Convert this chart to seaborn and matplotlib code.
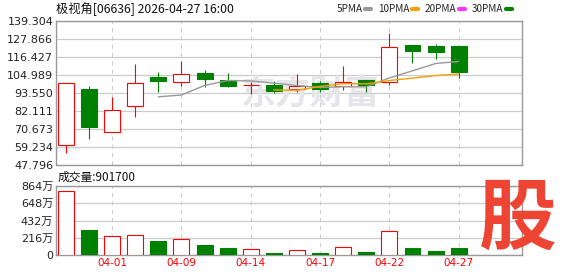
import numpy as np
import pandas as pd
import matplotlib
matplotlib.use("Agg")
import matplotlib.pyplot as plt
import seaborn as sns
from matplotlib.lines import Line2D

# ---------------- data ----------------
dates = ['03-30', '03-31', '04-01', '04-02', '04-08', '04-09', '04-10', '04-13', '04-14',
         '04-15', '04-16', '04-17', '04-20', '04-21', '04-22', '04-23', '04-24', '04-27']
open_ = [60.3, 96.1, 68.6, 85.1, 103.7, 100.35, 106.3, 101.8, 98.4,
         98.4, 96.3, 99.9, 97.8, 101.8, 100.35, 124.0, 123.4, 123.4]
close = [99.7, 72.1, 82.75, 99.7, 101.4, 105.4, 102.6, 98.2, 98.4,
         94.6, 97.8, 96.3, 100.5, 98.4, 122.6, 120.4, 119.6, 107.1]
high = [99.7, 98.0, 91.0, 112.0, 106.9, 113.9, 108.2, 106.3, 100.5,
        101.0, 105.6, 101.2, 110.7, 101.8, 131.9, 124.0, 124.7, 123.4]
low = [55.6, 64.1, 68.6, 78.5, 94.4, 98.2, 97.55, 97.55, 92.9,
       93.75, 94.0, 94.0, 95.65, 94.4, 98.6, 112.8, 115.35, 103.3]
volume = [8010000, 3140000, 2350000, 2480000, 1720000, 1970000, 1260000, 880000, 710000,
          250000, 590000, 250000, 970000, 380000, 2980000, 880000, 500000, 901700]

price_ticks = [47.796, 59.234, 70.673, 82.111, 93.550, 104.989, 116.427, 127.866, 139.304]
vol_ticks = [0, 2160000, 4320000, 6480000, 8640000]
vol_tick_labels = ['0', '216万', '432万', '648万', '864万']
date_ticks = ['04-01', '04-09', '04-14', '04-17', '04-22', '04-27']
title = '极视角[06636] 2026-04-27 16:00'
ma_labels = ['5PMA', '10PMA', '20PMA', '30PMA']
ma_colors = ['#999999', '#F5A000', '#FF33FF', '#008000']

df = pd.DataFrame({'date': dates, 'open': open_, 'close': close,
                   'high': high, 'low': low, 'volume': volume})
df['idx'] = np.arange(len(df))
df['MA5'] = df['close'].rolling(5).mean()
df['MA10'] = df['close'].rolling(10).mean()

# ---------------- style ----------------
sns.set_theme(style='white')
CJK = ['Noto Sans CJK SC', 'DejaVu Sans']
plt.rcParams['font.family'] = ['DejaVu Sans', 'Noto Sans CJK SC']

RED = '#FF0000'
GREEN = '#008000'
GRID = '#CCCCCC'
SPINE = '#999999'

W, H = 578, 276
fig = plt.figure(figsize=(W / 100, H / 100), dpi=100)
fig.patch.set_facecolor('white')
ax = fig.add_axes([56 / W, 1 - 165 / H, 466 / W, 144 / H])
axv = fig.add_axes([56 / W, 1 - 255 / H, 466 / W, 69 / H])

up = df['close'] >= df['open']
cols = [RED if u else GREEN for u in up]
faces = ['white' if u else GREEN for u in up]
x = df['idx'].values
bw = 0.69

# watermark
ax.text(0.545, 0.5, '东方财富', transform=ax.transAxes, fontsize=25, fontweight='bold',
        color='#E6E6EA', ha='center', va='center', zorder=1, family=CJK)

# candles
ax.vlines(x, df['low'], df['high'], colors=cols, lw=0.8, zorder=3)
ax.bar(x, (df['close'] - df['open']).abs(), bottom=np.minimum(df['open'], df['close']),
       width=bw, color=faces, edgecolor=cols, linewidth=0.8, zorder=4)

# moving averages
sns.lineplot(data=df, x='idx', y='MA5', ax=ax, color=ma_colors[0], lw=1.0, zorder=5)
sns.lineplot(data=df, x='idx', y='MA10', ax=ax, color=ma_colors[1], lw=1.0, zorder=5)

# volume
axv.bar(x, df['volume'], width=bw, color=faces, edgecolor=cols, linewidth=0.8, zorder=3)

xlim = (-0.43, 19.74)
tick_pos = [dates.index(d) for d in date_ticks]
for a in (ax, axv):
    a.set_xlim(*xlim)
    a.set_xlabel('')
    a.set_ylabel('')
    for p in tick_pos:
        a.axvline(p, color=GRID, lw=0.75, ls=(0, (4, 4)), zorder=0)
    a.yaxis.grid(True, color=GRID, lw=0.9, zorder=0)
    a.set_axisbelow(True)
    for s in a.spines.values():
        s.set_visible(True)
        s.set_color(SPINE)
        s.set_linewidth(1.0)
    a.tick_params(length=0, pad=2)

ax.set_ylim(price_ticks[0], price_ticks[-1])
ax.set_yticks(price_ticks)
ax.set_yticklabels([f'{v:.3f}' for v in price_ticks], fontsize=8, color='#222222')
ax.set_xticks([])

axv.set_ylim(0, vol_ticks[-1])
axv.set_yticks(vol_ticks)
axv.set_yticklabels(vol_tick_labels, fontsize=8, color='#222222')
axv.set_xticks(tick_pos)
axv.set_xticklabels(date_ticks, fontsize=7.5, color=RED)

# title and legend
fig.text(56 / W, 1 - 9 / H, title, fontsize=8.8, va='center', ha='left', family=CJK, color='#111111')
handles = [Line2D([], [], color=c, lw=3) for c in ma_colors]
fig.legend(handles, ma_labels, loc='center right', bbox_to_anchor=(512 / W, 1 - 9 / H),
           ncol=4, frameon=False, markerfirst=False, handlelength=0.6, handletextpad=0.25,
           columnspacing=0.7, borderpad=0, borderaxespad=0,
           prop={'family': CJK, 'size': 7.2})

fig.text(58 / W, 1 - 177 / H, '成交量:901700', fontsize=8.5, va='center', ha='left',
         family=CJK, color='#111111')

# brand mark
fig.text(518 / W, 1 - 220 / H, '股', fontsize=56, fontweight='bold', color='#EE4433',
         ha='center', va='center', family=CJK, zorder=10)

fig.savefig('out.png', dpi=100)
